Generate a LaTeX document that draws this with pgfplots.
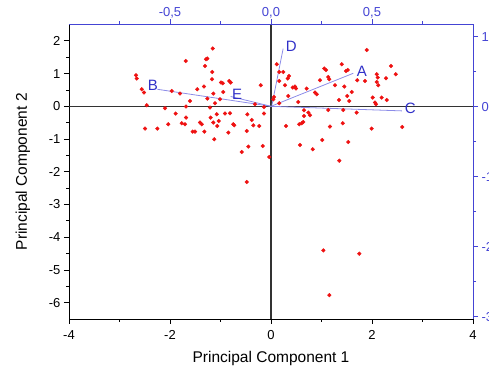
\documentclass[border=0pt]{standalone}
\usepackage{pgfplots}
\pgfplotsset{compat=1.18}
\usepackage{fontspec}
\setmainfont{Liberation Sans}
\usetikzlibrary{calc}
\definecolor{axblue}{HTML}{4444D4}
\definecolor{vecblue}{HTML}{8C8CE8}
\definecolor{lblblue}{HTML}{3030C8}
\definecolor{ptred}{HTML}{EE1111}
\begin{document}
\begin{tikzpicture}
\begin{axis}[name=ax,
 width=404pt, height=294.5pt, scale only axis,
 xmin=-4, xmax=4, ymin=-6.5, ymax=2.5,
 axis x line*=bottom, axis y line*=left,
 axis line style={line width=0.9pt, -},
 xtick={-4,-2,0,2,4}, xticklabels={-4,-2,0,2,4},
 minor xtick={-3,-1,1,3},
 ytick={-6,-5,-4,-3,-2,-1,0,1,2}, yticklabels={-6,-5,-4,-3,-2,-1,0,1,2},
 minor ytick={-5.5,-4.5,-3.5,-2.5,-1.5,-0.5,0.5,1.5},
 tick align=outside, major tick length=5pt, minor tick length=3pt,
 every tick/.style={line width=0.8pt, black},
 ticklabel style={font=\fontsize{13}{15}\selectfont},
 xticklabel style={yshift=-3pt},
 xlabel={Principal Component 1}, ylabel={Principal Component 2},
 label style={font=\fontsize{15.5}{18}\selectfont},
 xlabel style={yshift=-5pt},
 ylabel style={yshift=12pt},
 clip=false,
]
\addplot[line width=1.2pt, color=black!80] coordinates {(-4,0) (4,0)};
\addplot[line width=1.2pt, color=black!80] coordinates {(0,-6.5) (0,2.5)};
\addplot[only marks, mark=*, mark size=1.85pt, color=ptred] coordinates {
(-2.673,0.948) (-2.659,0.847) (-2.560,0.520) (-2.515,0.419) (-2.461,0.031)
(-2.495,-0.682) (-2.251,-0.682) (-2.099,-0.061) (-2.034,-0.550) (-1.966,0.468)
(-1.887,-0.223) (-1.802,0.388) (-1.768,-0.520) (-1.703,-0.550) (-1.689,1.385)
(-1.683,-0.009) (-1.683,-0.346) (-1.604,0.162) (-1.550,-0.774) (-1.505,-0.774)
(-1.459,0.520) (-1.406,-0.498) (-1.372,-0.550) (-1.327,0.602) (-1.321,-0.774)
(-1.307,1.232) (-1.287,1.437) (-1.261,1.459) (-1.261,0.235) (-1.208,-0.040)
(-1.194,-0.346) (-1.168,0.826) (-1.162,1.049) (-1.154,1.765) (-1.143,0.388)
(-1.143,-0.498) (-1.123,-1.009) (-1.109,0.092) (-1.075,-0.245) (-1.063,-0.602)
(-1.036,-0.450) (-1.010,0.214) (-0.990,0.725) (-0.956,0.703) (-0.945,0.437)
(-0.911,-0.223) (-0.846,-0.804) (-0.826,0.774) (-0.798,0.725) (-0.812,-0.214)
(-0.747,-0.550) (-0.727,-0.581) (-0.580,-1.398) (-0.469,-0.245) (-0.481,-0.755)
(-0.450,-1.232) (-0.481,-2.315) (-0.382,-0.419) (-0.350,-0.581) (-0.317,0.061)
(-0.232,-0.602) (-0.204,0.642) (-0.164,-1.214) (-0.139,-0.021) (-0.139,-0.223)
(-0.034,-1.550) (0.046,0.214) (0.059,0.284) (0.113,1.284) (0.164,0.774)
(0.164,1.049) (0.164,0.092) (0.244,1.049) (0.277,0.642) (0.297,-0.602)
(0.331,0.847) (0.356,0.927) (0.343,0.315) (0.430,0.572) (0.475,0.602)
(0.495,0.541) (0.541,0.131) (0.560,-0.550) (0.608,-0.520) (0.640,-0.480)
(0.574,-1.183) (0.653,-0.122) (0.653,-0.297) (0.707,0.541) (0.739,-0.193)
(0.772,-0.275) (0.826,-1.315) (0.871,0.419) (0.905,0.367) (0.970,0.795)
(1.016,-1.031) (1.055,1.153) (1.089,1.110) (1.135,0.896) (1.154,0.826)
(1.135,-0.113) (1.168,-0.621) (1.267,0.642) (1.347,0.193) (1.352,-1.661)
(1.400,1.284) (1.420,-0.520) (1.432,-0.113) (1.451,0.602) (1.485,1.080)
(1.519,1.110) (1.511,0.315) (1.531,-1.092) (1.550,0.162) (1.598,0.437)
(1.697,-0.193) (1.709,0.795) (1.861,0.774) (1.895,1.722) (1.994,-0.682)
(2.014,0.266) (2.059,0.113) (2.079,0.061) (2.093,0.979) (2.113,0.878)
(2.093,0.743) (2.125,0.642) (2.192,0.266) (2.277,0.856) (2.291,0.193)
(2.376,1.232) (2.469,0.979) (2.600,-0.633) (1.036,-4.404) (1.749,-4.505)
(1.154,-5.771)
};
\addplot[color=vecblue, line width=0.8pt] coordinates {(0,0) (1.63,1.01)};
\addplot[color=vecblue, line width=0.8pt] coordinates {(0,0) (-2.25,0.52)};
\addplot[color=vecblue, line width=0.8pt] coordinates {(0,0) (2.59,-0.14)};
\addplot[color=vecblue, line width=0.8pt] coordinates {(0.02,0.05) (0.24,1.76)};
\addplot[color=vecblue, line width=0.8pt] coordinates {(0,0) (-0.8,0.3)};
\node[font=\fontsize{15}{17}\selectfont, text=lblblue] at (axis cs:1.80,1.08) {A};
\node[font=\fontsize{15}{17}\selectfont, text=lblblue] at (axis cs:-2.34,0.64) {B};
\node[font=\fontsize{15}{17}\selectfont, text=lblblue] at (axis cs:2.76,-0.06) {C};
\node[font=\fontsize{15}{17}\selectfont, text=lblblue] at (axis cs:0.40,1.84) {D};
\node[font=\fontsize{15}{17}\selectfont, text=lblblue] at (axis cs:-0.67,0.37) {E};
\end{axis}
\begin{axis}[
 width=404pt, height=294.5pt, scale only axis,
 xmin=-1, xmax=1, ymin=-3.033, ymax=1.174,
 axis x line*=top, axis y line*=right,
 axis line style={line width=0.9pt, -, axblue},
 xtick={-0.5,0,0.5}, xticklabels={{-0,5},{0,0},{0,5}},
 minor xtick={-0.75,-0.25,0.25,0.75},
 ytick={-3,-2,-1,0,1}, yticklabels={-3,-2,-1,0,1},
 minor ytick={-2.5,-1.5,-0.5,0.5},
 tick align=outside, major tick length=5pt, minor tick length=3pt,
 every tick/.style={line width=0.8pt, axblue},
 ticklabel style={font=\fontsize{13}{15}\selectfont, text=axblue},
 xticklabel style={yshift=-2pt},
]
\end{axis}
\pgfresetboundingbox
\path[use as bounding box] ($(ax.south west)+(-69pt,-57pt)$) rectangle ($(ax.north east)+(16pt,24.5pt)$);
\end{tikzpicture}
\end{document}
